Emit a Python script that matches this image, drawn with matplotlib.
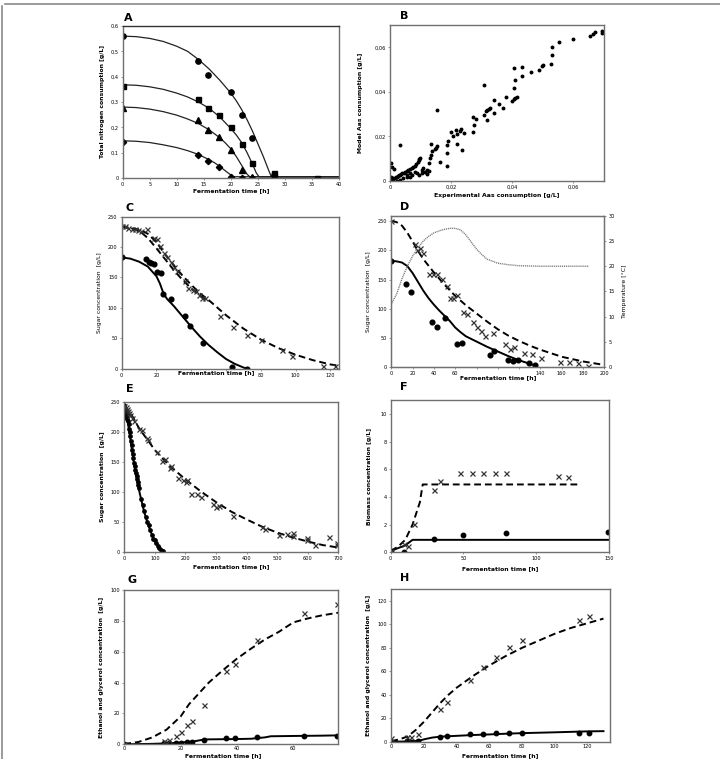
import matplotlib
matplotlib.use('Agg')
import matplotlib.pyplot as plt
from matplotlib.lines import Line2D
from matplotlib.ticker import FuncFormatter

# ---------------- data ----------------
# A: total nitrogen consumption
a_t_circle = [0, 14, 15.8, 20, 22, 24, 28]
a_circle = [0.56, 0.463, 0.405, 0.34, 0.25, 0.158, 0.01]
a_t_square = [0, 14, 15.8, 17.8, 20, 22, 24, 28, 28, 36]
a_square = [0.365, 0.313, 0.278, 0.25, 0.203, 0.135, 0.06, 0.02, 0.005, 0.0]
a_t_tri = [0, 14, 15.8, 17.8, 20, 22, 24]
a_tri = [0.275, 0.23, 0.19, 0.163, 0.11, 0.033, 0.003]
a_t_diam = [0, 14, 15.8, 17.8, 20, 22, 24]
a_diam = [0.143, 0.092, 0.068, 0.043, 0.003, 0.0, 0.0]
a_fit_t1 = [0, 2.5, 5, 7.5, 10, 12, 14, 16, 18, 20, 21, 22, 23, 24, 25, 26, 27, 27.5, 40]
a_fit1 = [0.56, 0.558, 0.551, 0.539, 0.52, 0.5, 0.468, 0.43, 0.385, 0.335, 0.305, 0.27,
          0.23, 0.185, 0.135, 0.085, 0.03, 0.005, 0.005]
a_fit_t2 = [0, 2.5, 5, 7.5, 10, 12, 14, 16, 18, 20, 21, 22, 23, 24, 24.7, 25.2, 40]
a_fit2 = [0.368, 0.366, 0.36, 0.35, 0.335, 0.32, 0.3, 0.275, 0.24, 0.195, 0.17, 0.14, 0.1,
          0.055, 0.02, 0.005, 0.005]
a_fit_t3 = [0, 2.5, 5, 7.5, 10, 12, 14, 16, 18, 19, 20, 21, 22, 23, 23.5, 40]
a_fit3 = [0.28, 0.278, 0.272, 0.262, 0.248, 0.233, 0.215, 0.19, 0.158, 0.138, 0.115, 0.085,
          0.05, 0.015, 0.005, 0.005]
a_fit_t4 = [0, 2.5, 5, 7.5, 10, 12, 14, 16, 17, 18, 19, 20, 20.5, 40]
a_fit4 = [0.147, 0.145, 0.14, 0.131, 0.12, 0.108, 0.093, 0.072, 0.06, 0.045, 0.028, 0.012,
          0.005, 0.005]

# B: model vs experimental Aas consumption
b_exp = [0.0695, 0.0695, 0.0670, 0.0663, 0.0654, 0.0600, 0.0554, 0.0530, 0.0530, 0.0528,
         0.0499, 0.0496, 0.0489, 0.0462, 0.0432, 0.0432, 0.0407, 0.0408, 0.0407, 0.0417,
         0.0410, 0.0407, 0.0399, 0.0380, 0.0371, 0.0358, 0.0340, 0.0340, 0.0327, 0.0324,
         0.0318, 0.0313, 0.0308, 0.0316, 0.0308, 0.0281, 0.0276, 0.0273, 0.0270, 0.0232,
         0.0228, 0.0218, 0.0216, 0.0242, 0.0237, 0.0218, 0.0207, 0.0198, 0.0191, 0.0188,
         0.0188, 0.0185, 0.0164, 0.0155, 0.0155, 0.0150, 0.0146, 0.0135, 0.0137, 0.0133,
         0.0131, 0.0129, 0.0129, 0.0098, 0.0096, 0.0094, 0.0092, 0.0096, 0.0085, 0.0033,
         0.0002, 0.0005, 0.0012,
         0.0, 0.0002, 0.0005, 0.0009, 0.0011, 0.0015, 0.0020, 0.0022, 0.0025, 0.0029,
         0.0033, 0.0037, 0.0040, 0.0045, 0.0049, 0.0055, 0.0060, 0.0065, 0.0071, 0.0076,
         0.0082, 0.0065, 0.0055, 0.0071, 0.0082, 0.0104, 0.0109, 0.0115, 0.0120, 0.0065,
         0.0044, 0.0033, 0.0011, 0.0022, 0.0055, 0.0089, 0.0105, 0.0120, 0.0004, 0.0002]
b_model = [0.0674, 0.0662, 0.0668, 0.0660, 0.0651, 0.0638, 0.0623, 0.0600, 0.0565, 0.0525,
           0.0520, 0.0516, 0.0500, 0.0488, 0.0510, 0.0473, 0.0508, 0.0452, 0.0416, 0.0377,
           0.0371, 0.0366, 0.0359, 0.0378, 0.0329, 0.0347, 0.0362, 0.0306, 0.0329, 0.0321,
           0.0317, 0.0312, 0.0294, 0.0273, 0.0431, 0.0280, 0.0253, 0.0285, 0.0220, 0.0232,
           0.0225, 0.0213, 0.0228, 0.0217, 0.0140, 0.0166, 0.0200, 0.0219, 0.0179, 0.0161,
           0.0125, 0.0069, 0.0087, 0.0320, 0.0155, 0.0148, 0.0145, 0.0167, 0.0133, 0.0118,
           0.0103, 0.0080, 0.0044, 0.0103, 0.0098, 0.0092, 0.0087, 0.0027, 0.0077, 0.0161,
           0.0083, 0.0065, 0.0054,
           0.0, 0.0005, 0.0008, 0.0009, 0.0012, 0.0014, 0.0017, 0.0020, 0.0023, 0.0026,
           0.0029, 0.0032, 0.0035, 0.0038, 0.0041, 0.0045, 0.0050, 0.0054, 0.0060, 0.0065,
           0.0068, 0.0035, 0.0027, 0.0027, 0.0042, 0.0050, 0.0057, 0.0042, 0.0050, 0.0017,
           0.0012, 0.0005, 0.0002, 0.0002, 0.0020, 0.0038, 0.0036, 0.0032, 0.0020, 0.0]

# C: sugar concentration
c_t_dot = [0, 14.2, 15.5, 16.8, 18.4, 20.5, 22.6, 24, 28.3, 36.2, 39.4, 47, 63.3, 72]
c_dot = [183, 180, 176, 174, 173, 159, 158, 123, 115, 86, 71, 43, 2, 0]
c_t_x = [0, 1.9, 3.8, 5.7, 7.5, 9.4, 11, 14.4, 18.4, 20.5, 22.2, 24.3, 26.2, 28.1, 30.2,
         32, 36.4, 38.4, 41, 42.7, 44.4, 46, 48.2, 56.5, 64, 72, 80.4, 92.2, 98.2, 116, 122.5]
c_x = [234, 234, 232, 230, 229, 228, 227, 230, 215, 213, 202, 191, 183, 175, 168,
       161, 144, 132, 130, 128, 121, 117, 116, 86, 69, 55, 47, 31, 21, 5, 4]
c_fit_t = [0, 5, 10, 15, 20, 22, 24, 26, 30, 35, 40, 45, 50, 55, 60, 65, 70, 72]
c_fit = [183, 181, 176, 168, 152, 140, 124, 115, 103, 86, 69, 53, 39, 27, 16, 8, 2, 0]
c_dash_t1 = [0, 10, 15, 20, 25, 30, 35, 40, 45, 50, 60, 70, 80, 90, 100, 110, 120, 125]
c_dash1 = [234, 229, 222, 208, 188, 170, 153, 138, 124, 113, 88, 66, 48, 34, 23, 14, 7, 5]
c_dash_t2 = [0, 10, 15, 20, 25, 30, 35, 40, 45, 50]
c_dash2 = [234, 227, 215, 198, 180, 162, 146, 132, 120, 111]
c_xtick_labels = ['0', '20', '', '', '80', '100', '120']

# D: sugar concentration + temperature
d_t_dot = [0, 14.1, 18.2, 38.2, 42.6, 50, 62, 66.4, 92.3, 96.7, 110, 114.6, 118.6, 129.6, 135]
d_dot = [182, 142, 128, 78, 69.5, 85, 39, 41.6, 20.5, 27, 13, 11.4, 13, 6.8, 4]
d_t_x = [0, 22.2, 23.8, 26.9, 30, 35.4, 39.4, 43.2, 47.3, 52, 55.1, 58.2, 61.3, 67.6, 71.4,
         76.4, 80, 84.2, 88, 95.5, 107, 111.7, 115, 124.3, 132.4, 140.2, 158.4, 166.8, 175, 185]
d_x = [250, 210, 200, 203, 196, 159, 159, 159, 151, 139.5, 118, 119, 123.6, 94, 90.5,
       77.5, 69.5, 62.6, 54, 58, 39, 31, 34, 24.5, 23.3, 16.5, 9.7, 9, 6.8, 1.7]
d_fit_t = [0, 5, 10, 15, 20, 25, 30, 35, 40, 45, 50, 55, 60, 65, 70, 80, 90, 100, 110, 120, 130, 135]
d_fit = [182, 181, 179, 173, 161, 146, 131, 118, 107, 97, 88, 79, 68, 60, 53, 44, 35, 27, 19, 12, 6, 3]
d_dash_t = [0, 5, 10, 15, 20, 25, 30, 40, 50, 60, 70, 80, 90, 100, 110, 120, 130, 140, 150,
            160, 170, 180, 190, 200]
d_dash = [250, 248, 242, 230, 215, 199, 185, 162, 141, 122, 106, 92, 78, 65, 54, 45, 37, 30, 24,
          18, 14, 10, 7, 4]
d_temp_t = [0, 5, 10, 15, 20, 25, 30, 35, 40, 45, 50, 55, 60, 65, 70, 75, 80, 85, 90, 100,
            110, 120, 140, 185]
d_temp = [12.5, 14.5, 17.5, 20, 22, 23.6, 25, 25.9, 26.6, 27, 27.3, 27.5, 27.5, 27.2, 26.2,
          24.8, 23.4, 22.3, 21.4, 20.6, 20.3, 20.1, 20.0, 20.0]
d_xtick_labels = ['0', '20', '40', '60', '', '', '', '140', '160', '180', '200']

# E: sugar concentration, long run
e_t_dot = [0, 1, 2, 3, 4, 5, 6, 7, 8, 10, 12, 14, 16, 18, 20, 22, 24, 26, 28, 30, 32, 34, 36,
           38, 40, 42, 44, 46, 48, 55, 60, 65, 70, 75, 80, 85, 90, 95, 100, 105, 110, 115,
           120, 125]
e_dot = [245, 238, 241, 233, 236, 230, 232, 226, 228, 222, 219, 213, 206, 200, 193, 186, 178,
         170, 163, 156, 149, 143, 137, 132, 126, 121, 116, 112, 107, 88, 78, 68, 58, 50, 44,
         36, 28, 22, 19, 14, 10, 6, 3, 1]
e_t_x = [0, 4, 8, 11, 15, 18.5, 26, 33, 49, 58, 73, 78.5, 106, 122, 132, 149, 153, 177, 193,
         202, 205, 217, 239, 250, 289, 300, 311, 357, 449, 460, 506, 531, 551, 551, 598, 598,
         624, 668, 697, 697]
e_x = [244, 242, 239, 236, 232, 228, 224, 219, 206, 204, 190, 187, 166, 152, 155, 140, 143,
       123, 120, 116, 120, 96, 97, 92, 80, 75, 76, 60, 41, 38, 28, 30, 27, 31, 23, 19.5,
       12, 24, 14.5, 12]
e_fit_t = [0, 5, 10, 15, 20, 25, 30, 35, 40, 45, 50, 55, 60, 65, 70, 75, 80, 90, 100, 110, 120, 128]
e_fit = [242, 232, 222, 205, 188, 170, 153, 138, 124, 111, 99, 88, 77, 67, 58, 50, 42, 29, 18,
         10, 4, 1]
e_dash_t = [0, 25, 50, 75, 100, 125, 150, 200, 250, 300, 350, 400, 450, 500, 550, 600, 650, 700]
e_dash = [243, 228, 205, 188, 170, 156, 143, 121, 101, 83, 67, 54, 42, 32, 24, 17, 11, 7]

# F: biomass
f_t_x = [0, 9, 12, 16, 29.6, 33.7, 47.4, 55.8, 63.6, 71.6, 79.3, 115.3, 121.5]
f_x = [0.1, 0.6, 0.46, 2.08, 4.49, 5.12, 5.72, 5.72, 5.72, 5.72, 5.72, 5.53, 5.41]
f_t_dot = [0, 9.3, 29.6, 49.7, 79.3, 149.5]
f_dot = [0.1, 0.05, 0.94, 1.26, 1.43, 1.5]
f_dash_t = [0, 5, 10, 15, 20, 22, 30, 130]
f_dash = [0.1, 0.4, 0.9, 2.0, 3.6, 4.9, 4.9, 4.9]
f_fit_t = [0, 10, 15, 150]
f_fit = [0.1, 0.5, 0.9, 0.9]

# G: ethanol and glycerol
g_t = [0, 14.2, 16, 18.2, 20.2, 22.1, 24.2, 28.2, 36.1, 39.3, 47.2, 63.8, 75.5]
g_eth = [0.2, 2.2, 2.8, 5.2, 8, 12.3, 15.3, 25.7, 47.5, 51.8, 67.6, 84.9, 90.7]
g_gly = [0, 0.6, 0.6, 0.9, 1.1, 1.5, 1.7, 2.8, 4.3, 4.3, 5, 5.6, 5.6]
g_dash_t = [0, 5, 10, 15, 20, 23, 26, 30, 35, 40, 45, 50, 55, 60, 65, 70, 76]
g_dash = [0.2, 1.5, 4.5, 9.5, 18, 26, 32, 40, 48, 55.5, 62, 68, 73, 79, 81.5, 83.5, 85.3]
g_fit_t = [0, 10, 15, 20, 25, 28, 30, 40, 45, 50, 52, 60, 70, 76]
g_fit = [0, 0.3, 0.6, 1.1, 2, 3, 3.2, 3.4, 3.6, 4.5, 5.2, 5.4, 5.6, 5.8]

# H: ethanol and glycerol
h_t = [0, 9.4, 11.8, 16.3, 29.7, 34.2, 48, 56.2, 64, 72, 79.9, 115.3, 121.2]
h_eth = [2.8, 4.3, 4.3, 6.5, 27.8, 33.5, 52.5, 63.3, 72.3, 80.9, 86.8, 103.5, 107]
h_gly = [0, 0.3, 0, 0.9, 4.3, 4.8, 6.2, 6.5, 7.1, 7.4, 7.7, 7.4, 7.4]
h_dash_t = [0, 5, 10, 15, 20, 25, 30, 35, 40, 50, 60, 70, 80, 90, 100, 110, 120, 130]
h_dash = [0.5, 2, 4.5, 10, 17, 25, 33, 40, 46, 56, 65, 73, 80, 86, 92, 97, 101, 105]
h_fit_t = [0, 10, 17, 20, 25, 30, 40, 50, 60, 70, 80, 100, 120, 130]
h_fit = [0, 0.2, 0.8, 2, 3.5, 4.3, 5, 5.7, 6.2, 6.8, 7.3, 8, 8.8, 9]

# ---------------- figure ----------------
W, H = 720, 759
fig = plt.figure(figsize=(W / 100, H / 100), dpi=100)
plt.rcParams['font.family'] = ['DejaVu Sans']

TICK_FS = 3.6
LAB_FS = 4.4
SPINE = '#707070'


def make_ax(l, t, r, b):
    ax = fig.add_axes([l / W, 1 - b / H, (r - l) / W, (b - t) / H])
    for s in ax.spines.values():
        s.set_color(SPINE)
        s.set_linewidth(1.0)
    ax.tick_params(labelsize=TICK_FS, length=1.5, width=0.5, color=SPINE, pad=1.5)
    return ax


def comma(v, pos):
    s = ('%g' % round(v, 4))
    return s.replace('.', ',')


def letter(x, y, s):
    fig.text(x / W, 1 - y / H, s, fontsize=8, fontweight='bold', ha='left', va='center')


dash_style = dict(color='black', lw=1.4, ls=(0, (3.5, 2)))
solid_style = dict(color='black', lw=1.4)

# outer frame (top and left edges visible)
fig.add_artist(Line2D([1.5 / W, 1.5 / W], [0, 1 - 6 / H], color='#8a8a8a', lw=1.2))
fig.add_artist(Line2D([5 / W, 1], [1 - 4 / H, 1 - 4 / H], color='#8a8a8a', lw=1.2))

# ---- A ----
ax = make_ax(122.7, 26, 339, 178)
for tt, yy in [(a_fit_t1, a_fit1), (a_fit_t2, a_fit2), (a_fit_t3, a_fit3), (a_fit_t4, a_fit4)]:
    ax.plot(tt, yy, color='#222222', lw=0.9)
ax.plot(a_t_circle, a_circle, 'o', color='black', ms=3.8)
ax.plot(a_t_square, a_square, 's', color='black', ms=3.6)
ax.plot(a_t_tri, a_tri, '^', color='black', ms=3.8)
ax.plot(a_t_diam, a_diam, 'D', color='black', ms=3.2)
ax.set_xlim(0, 40)
ax.set_ylim(0, 0.6)
ax.set_xticks(range(0, 41, 5))
ax.set_yticks([0, 0.1, 0.2, 0.3, 0.4, 0.5, 0.6])
ax.yaxis.set_major_formatter(FuncFormatter(comma))
ax.spines['top'].set_color('#333333')
ax.set_xlabel('Fermentation time [h]', fontsize=LAB_FS, fontweight='bold', labelpad=1)
ax.set_ylabel('Total nitrogen consumption [g/L]', fontsize=LAB_FS, fontweight='bold', labelpad=4)
letter(124, 18, 'A')

# ---- B ----
ax = make_ax(390, 25, 604, 181)
ax.plot(b_exp, b_model, 'o', color='black', ms=1.8)
ax.set_xlim(0, 0.07)
ax.set_ylim(0, 0.07)
ax.set_xticks([0, 0.02, 0.04, 0.06])
ax.set_yticks([0, 0.02, 0.04, 0.06])
ax.xaxis.set_major_formatter(FuncFormatter(comma))
ax.yaxis.set_major_formatter(FuncFormatter(comma))
ax.set_xlabel('Experimental Aas consumption [g/L]', fontsize=LAB_FS, fontweight='bold', labelpad=2)
ax.set_ylabel('Model Aas consumption [g/L]', fontsize=LAB_FS, fontweight='bold', labelpad=8)
letter(400, 16, 'B')

# ---- C ----
ax = make_ax(121.7, 216.7, 339, 368.7)
ax.plot(c_fit_t, c_fit, **solid_style)
ax.plot(c_dash_t1, c_dash1, **dash_style)
ax.plot(c_dash_t2, c_dash2, **dash_style)
ax.plot(c_t_dot, c_dot, 'o', color='black', ms=3.4)
ax.plot(c_t_x, c_x, 'x', color='#333333', ms=3.6, mew=0.9)
ax.set_xlim(0, 125)
ax.set_ylim(0, 250)
ax.set_xticks(range(0, 121, 20))
ax.set_xticklabels(c_xtick_labels)
ax.set_yticks(range(0, 251, 50))
ax.set_xlabel('Fermentation time [h]', fontsize=LAB_FS, fontweight='bold')
ax.xaxis.set_label_coords(0.437, -0.028)
ax.xaxis.label.set_va('center')
ax.set_ylabel('Sugar concentration  [g/L]', fontsize=LAB_FS, labelpad=4)
letter(125, 208, 'C')

# ---- D ----
ax = make_ax(391.3, 215.7, 604.3, 367.3)
ax.plot(d_fit_t, d_fit, **solid_style)
ax.plot(d_dash_t, d_dash, **dash_style)
ax.plot(d_t_dot, d_dot, 'o', color='black', ms=3.4)
ax.plot(d_t_x, d_x, 'x', color='#333333', ms=3.6, mew=0.9)
ax.set_xlim(0, 200)
ax.set_ylim(0, 259)
ax.set_xticks(range(0, 201, 20))
ax.set_xticklabels(d_xtick_labels)
ax.set_yticks(range(0, 251, 50))
ax.set_xlabel('Fermentation time [h]', fontsize=LAB_FS, fontweight='bold')
ax.xaxis.set_label_coords(0.5, -0.065)
ax.xaxis.label.set_va('center')
ax.set_ylabel('Sugar concentration  [g/L]', fontsize=LAB_FS, labelpad=5)
ax2 = ax.twinx()
ax2.plot(d_temp_t, d_temp, color='#777777', lw=1.0, ls=(0, (0.8, 0.6)))
ax2.set_ylim(0, 30)
ax2.set_yticks(range(0, 31, 5))
ax2.tick_params(labelsize=TICK_FS, length=1.5, width=0.5, color=SPINE, pad=1.5)
for s in ax2.spines.values():
    s.set_color(SPINE)
ax2.set_ylabel('Temperature [°C]', fontsize=LAB_FS, labelpad=5)
letter(400, 207, 'D')

# ---- E ----
ax = make_ax(124.3, 402.3, 338.3, 551.7)
ax.plot(e_fit_t, e_fit, **solid_style)
ax.plot(e_dash_t, e_dash, **dash_style)
ax.plot(e_t_dot, e_dot, 'o', color='black', ms=2.4)
ax.plot(e_t_x, e_x, 'x', color='#333333', ms=3.6, mew=0.9)
ax.set_xlim(0, 700)
ax.set_ylim(0, 250)
ax.set_xticks(range(0, 701, 100))
ax.set_yticks(range(0, 251, 50))
ax.set_xlabel('Fermentation time [h]', fontsize=LAB_FS, fontweight='bold', labelpad=2)
ax.set_ylabel('Sugar concentration  [g/L]', fontsize=LAB_FS, fontweight='bold', labelpad=4)
letter(126, 389, 'E')

# ---- F ----
ax = make_ax(390.7, 400, 609, 552.3)
ax.plot(f_fit_t, f_fit, **solid_style)
ax.plot(f_dash_t, f_dash, **dash_style)
ax.plot(f_t_dot, f_dot, 'o', color='black', ms=3.2)
ax.plot(f_t_x, f_x, 'x', color='#333333', ms=3.6, mew=0.9)
ax.set_xlim(0, 150)
ax.set_ylim(0, 11)
ax.set_xticks(range(0, 151, 50))
ax.set_yticks(range(0, 11, 2))
ax.set_xlabel('Fermentation time [h]', fontsize=LAB_FS, fontweight='bold', labelpad=3)
ax.set_ylabel('Biomass concentration [g/L]', fontsize=LAB_FS, fontweight='bold', labelpad=6)
letter(400, 387, 'F')

# ---- G ----
ax = make_ax(124.3, 590, 338.3, 744.3)
ax.plot(g_fit_t, g_fit, **solid_style)
ax.plot(g_dash_t, g_dash, **dash_style)
ax.plot(g_t, g_gly, 'o', color='black', ms=3.2)
ax.plot(g_t, g_eth, 'x', color='#333333', ms=3.6, mew=0.9)
ax.set_xlim(0, 76)
ax.set_ylim(0, 100)
ax.set_xticks(range(0, 61, 20))
ax.set_yticks(range(0, 101, 20))
ax.tick_params(axis='x', length=1, pad=0.5)
ax.set_xlabel('Fermentation time [h]', fontsize=LAB_FS, fontweight='bold')
ax.xaxis.set_label_coords(0.46, -0.071)
ax.xaxis.label.set_va('center')
ax.set_ylabel('Ethanol and glycerol concentration  [g/L]', fontsize=LAB_FS, fontweight='bold', labelpad=5)
letter(127, 580, 'G')

# ---- H ----
ax = make_ax(391.3, 589.3, 610, 741.7)
ax.plot(h_fit_t, h_fit, **solid_style)
ax.plot(h_dash_t, h_dash, **dash_style)
ax.plot(h_t, h_gly, 'o', color='black', ms=3.2)
ax.plot(h_t, h_eth, 'x', color='#333333', ms=3.6, mew=0.9)
ax.set_xlim(0, 134)
ax.set_ylim(0, 130)
ax.set_xticks(range(0, 121, 20))
ax.set_yticks(range(0, 121, 20))
ax.tick_params(axis='x', length=1, pad=0.5)
ax.set_xlabel('Fermentation time [h]', fontsize=LAB_FS, fontweight='bold')
ax.xaxis.set_label_coords(0.5, -0.089)
ax.xaxis.label.set_va('center')
ax.set_ylabel('Ethanol and glycerol concentration  [g/L]', fontsize=LAB_FS, fontweight='bold', labelpad=5)
letter(400, 578, 'H')

fig.savefig('out.png', dpi=100)
